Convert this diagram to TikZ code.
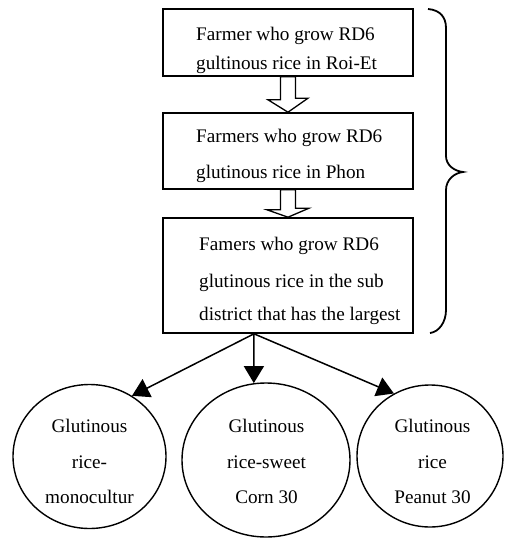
\documentclass[tikz,border=0pt]{standalone}
\usepackage{fontspec}
\setmainfont{Liberation Serif}
\usetikzlibrary{arrows.meta,shapes.geometric,calc}
\tikzset{
  boxnode/.style={draw, line width=1.6pt, minimum width=250pt, inner sep=0pt},
  circnode/.style={draw, ellipse, line width=1.4pt, inner sep=0pt},
  txt/.style={font=\fontsize{19.2}{23}\selectfont, inner sep=0pt},
  hollow/.style={draw, line width=1.3pt, fill=white, line join=miter},
  conn/.style={line width=1.5pt, -{Triangle[length=17pt,width=20pt]}},
  bracestyle/.style={line width=1.8pt}
}
\begin{document}
\begin{tikzpicture}[x=1pt,y=-1pt]
\useasboundingbox (0,0) rectangle (504,538);
% boxes
\node[boxnode, minimum height=67pt] (b1) at (288,42.5) {};
\node[boxnode, minimum height=76pt] (b2) at (288,151) {};
\node[boxnode, minimum height=115pt] (b3) at (288,275.5) {};
% box texts
\node[txt, anchor=base west] (t11) at (196,40) {Farmer who grow RD6};
\node[txt, anchor=base west] (t12) at (196,69) {gultinous rice in Roi-Et};
\node[txt, anchor=base west] (t21) at (196,142) {Farmers who grow RD6};
\node[txt, anchor=base west] (t22) at (196,178) {glutinous rice in Phon};
\node[txt, anchor=base west] (t31) at (199,250) {Famers who grow RD6};
\node[txt, anchor=base west] (t32) at (199,287) {glutinous rice in the sub};
\node[txt, anchor=base west] (t33) at (199,320) {district that has the largest};
% hollow arrows
\path[hollow] ($(b1.south)+(-7.5,0)$) -- ++(0,23) -- ++(-12.5,0) -- (b2.north)
  -- ($(b2.north)+(20,-14)$) -- ++(-12.5,0) -- ($(b1.south)+(7.5,0)$) -- cycle;
\path[hollow] ($(b2.south)+(-7.5,0)$) -- ++(0,20) -- ++(-13.5,0) -- (b3.north)
  -- ($(b3.north)+(21,-9)$) -- ++(-13.5,0) -- ($(b2.south)+(7.5,0)$) -- cycle;
% brace
\coordinate (brtop) at (428,9);
\coordinate (brtip) at (463,172);
\coordinate (brbot) at (430,333);
\draw[bracestyle] (brtop) .. controls (440,10) and (446,17) .. (446,28)
  -- (446,156) .. controls (446,165) and (454,171) .. (brtip)
  .. controls (454,173) and (446,180) .. (446,190)
  -- (446,310) .. controls (446,322) and (439,332) .. (brbot);
% ellipses
\node[circnode, minimum width=153pt, minimum height=144pt] (L) at (89.5,456.5) {};
\node[circnode, minimum width=168pt, minimum height=154pt] (M) at (266,460) {};
\node[circnode, minimum width=146pt, minimum height=142pt] (R) at (430,456) {};
% ellipse texts
\node[txt, anchor=base] (l1) at (89.5,432) {Glutinous};
\node[txt, anchor=base] (l2) at (89.5,468) {rice-};
\node[txt, anchor=base] (l3) at (89.5,503) {monocultur};
\node[txt, anchor=base] (m1) at (266.5,432) {Glutinous};
\node[txt, anchor=base] (m2) at (266.5,468) {rice-sweet};
\node[txt, anchor=base] (m3) at (266.5,503) {Corn 30};
\node[txt, anchor=base] (r1) at (432.5,432) {Glutinous};
\node[txt, anchor=base] (r2) at (432.5,468) {rice};
\node[txt, anchor=base] (r3) at (432.5,503) {Peanut 30};
% connectors
\coordinate (s) at ($(b3.south)+(-34,0)$);
\draw[conn] (s) -- (L.55);
\draw[conn] (s) -- (M.99);
\draw[conn] (s) -- (R.120);
\end{tikzpicture}
\end{document}
